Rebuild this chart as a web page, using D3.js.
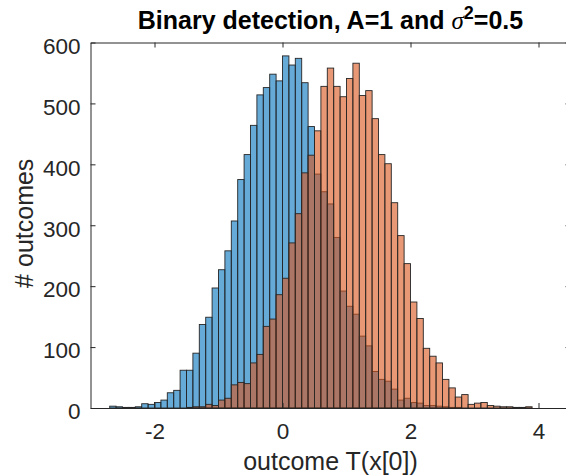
<!DOCTYPE html>
<html>
<head>
<meta charset="utf-8">
<script src="https://cdn.jsdelivr.net/npm/d3@7"></script>
<style>
  html, body { margin: 0; padding: 0; background: #fff; }
  svg { display: block; }
  text { font-family: "Liberation Sans", Arial, Helvetica, sans-serif; fill: #262626; }
</style>
</head>
<body>
<svg id="chart" width="566" height="476"></svg>
<script>
// Left edges of the histogram bins (bin width 0.1)
const binEdges = [
  -2.7, -2.6, -2.5, -2.4, -2.3, -2.2, -2.1, -2.0, -1.9, -1.8,
  -1.7, -1.6, -1.5, -1.4, -1.3, -1.2, -1.1, -1.0, -0.9, -0.8,
  -0.7, -0.6, -0.5, -0.4, -0.3, -0.2, -0.1, 0.0, 0.1, 0.2,
  0.3, 0.4, 0.5, 0.6, 0.7, 0.8, 0.9, 1.0, 1.1, 1.2,
  1.3, 1.4, 1.5, 1.6, 1.7, 1.8, 1.9, 2.0, 2.1, 2.2,
  2.3, 2.4, 2.5, 2.6, 2.7, 2.8, 2.9, 3.0, 3.1, 3.2,
  3.3, 3.4, 3.5, 3.6, 3.7, 3.8
];
const binWidth = 0.1;

// Outcome counts when only noise is present (H0)
const countsH0 = [
  3, 2, 1, 1, 2, 7, 6, 9, 13, 25,
  29, 62, 62, 90, 137, 149, 197, 227, 258, 307,
  375, 416, 464, 514, 526, 548, 537, 578, 563, 574,
  534, 462, 384, 355, 335, 280, 192, 167, 154, 118,
  102, 60, 47, 44, 31, 13, 16, 9, 8, 4,
  4, 3, 2, 1, 1, 0, 0, 0, 0, 0,
  0, 0, 0, 0, 0, 0
];

// Outcome counts when the signal A=1 is present (H1)
const countsH1 = [
  0, 0, 0, 0, 0, 0, 0, 0, 0, 0,
  0, 0, 1, 2, 2, 6, 4, 13, 16, 38,
  42, 40, 74, 88, 134, 146, 186, 213, 271, 319,
  386, 415, 455, 528, 558, 528, 511, 541, 566, 513,
  521, 475, 416, 401, 337, 283, 237, 174, 147, 98,
  85, 74, 47, 33, 18, 22, 6, 8, 9, 4,
  3, 2, 2, 1, 1, 2
];

const xTicks = [-2, 0, 2, 4];
const xTickLabels = ["-2", "0", "2", "4"];
const yTicks = [0, 100, 200, 300, 400, 500, 600];

const svg = d3.select("#chart");
const axisColor = "#262626";

const x = d3.scaleLinear().domain([-3, 4.5]).range([90.5, 570.5]);
const y = d3.scaleLinear().domain([0, 600]).range([408, 42.5]);

const series = [
  { counts: countsH0, color: "rgb(0,114,189)" },
  { counts: countsH1, color: "rgb(217,83,25)" }
];

// Histogram bars, H0 first, then H1 drawn semi-transparent on top
series.forEach(s => {
  const bins = binEdges
    .map((e, i) => ({ x0: e, x1: e + binWidth, n: s.counts[i] }))
    .filter(d => d.n > 0);
  svg.append("g")
    .selectAll("rect")
    .data(bins)
    .join("rect")
    .attr("x", d => x(d.x0))
    .attr("width", d => x(d.x1) - x(d.x0))
    .attr("y", d => y(d.n))
    .attr("height", d => y(0) - y(d.n))
    .attr("fill", s.color)
    .attr("fill-opacity", 0.6)
    .attr("stroke", axisColor)
    .attr("stroke-width", 0.9);
});

// Axes with inward ticks and a box
const tickLen = 5;
const tickFont = "22.5px";
const axBottom = svg.append("g").attr("transform", `translate(0,${y(0)})`)
  .call(d3.axisBottom(x).tickValues(xTicks).tickSizeInner(-tickLen).tickSizeOuter(0)
        .tickFormat((d, i) => xTickLabels[i]).tickPadding(15.5));
const axTop = svg.append("g").attr("transform", `translate(0,${y(600)})`)
  .call(d3.axisTop(x).tickValues(xTicks).tickSizeInner(-tickLen).tickSizeOuter(0)
        .tickFormat(""));
const axLeft = svg.append("g").attr("transform", `translate(${x(-3)},0)`)
  .call(d3.axisLeft(y).tickValues(yTicks).tickSizeInner(-tickLen).tickSizeOuter(0)
        .tickPadding(10));
const axRight = svg.append("g").attr("transform", `translate(${x(4.5)},0)`)
  .call(d3.axisRight(y).tickValues(yTicks).tickSizeInner(-tickLen).tickSizeOuter(0)
        .tickFormat(""));

[axBottom, axTop, axLeft, axRight].forEach(g => {
  g.select(".domain").attr("stroke", axisColor).attr("stroke-width", 1);
  g.selectAll(".tick line").attr("stroke", axisColor).attr("stroke-width", 1);
  g.selectAll(".tick text")
    .attr("fill", axisColor)
    .style("font-family", '"Liberation Sans", Arial, sans-serif')
    .style("font-size", tickFont);
});
axLeft.selectAll(".tick text").attr("dy", "0.48em");

// Axis labels
svg.append("text")
  .attr("x", x(0.75))
  .attr("y", 469.5)
  .attr("text-anchor", "middle")
  .style("font-size", "25px")
  .text("outcome T(x[0])");

svg.append("text")
  .attr("transform", `translate(33,${(y(0) + y(600)) / 2 - 2}) rotate(-90)`)
  .attr("text-anchor", "middle")
  .style("font-size", "25px")
  .text("# outcomes");

// Title with sigma squared
const title = svg.append("text")
  .attr("x", x(0.75))
  .attr("y", 29)
  .attr("text-anchor", "middle")
  .style("font-size", "25px")
  .style("font-weight", "bold")
  .style("fill", "#000");
title.append("tspan").text("Binary detection, A=1 and ");
title.append("tspan")
  .style("font-family", '"Liberation Serif", "DejaVu Serif", serif')
  .style("font-style", "italic")
  .style("font-weight", "normal")
  .text("σ");
title.append("tspan").attr("dy", -10).style("font-size", "18px").text("2");
title.append("tspan").attr("dy", 10).text("=0.5");
</script>
</body>
</html>
